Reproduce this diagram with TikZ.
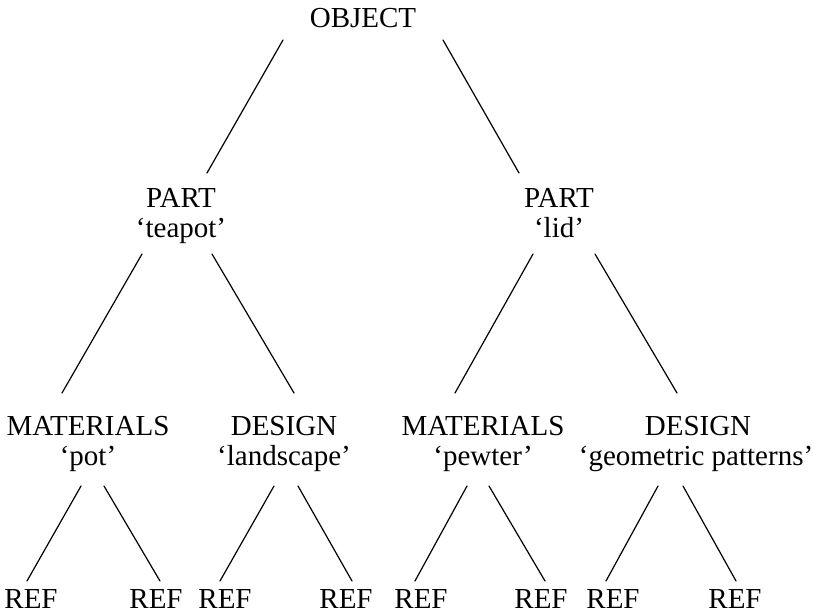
\documentclass[tikz,border=0pt]{standalone}
\usepackage{fontspec}
\setmainfont{Liberation Serif}
\usetikzlibrary{calc}

\tikzset{
  lbl/.style={anchor=base, inner sep=0pt, font=\fontsize{29}{31}\selectfont},
  branch/.style={line width=1.2pt, line cap=round}
}

\begin{document}
\begin{tikzpicture}[x=1pt, y=-1pt]
\useasboundingbox (0,0) rectangle (813,614);

% top of the tree
\node[lbl] (obj) at (363,27) {OBJECT};

% parts
\node[lbl] (partA) at (181,207) {PART};
\node[lbl] (teapot) at (181,237) {‘teapot’};
\node[lbl] (partB) at (559,207) {PART};
\node[lbl] (lid) at (559,237) {‘lid’};

% materials and design
\node[lbl] (matA) at (88,435) {MATERIALS};
\node[lbl] (pot) at (88,465) {‘pot’};
\node[lbl] (desA) at (284,435) {DESIGN};
\node[lbl] (land) at (284,465) {‘landscape’};
\node[lbl] (matB) at (483,435) {MATERIALS};
\node[lbl] (pewter) at (483,465) {‘pewter’};
\node[lbl] (desB) at (698,435) {DESIGN};
\node[lbl] (geo) at (696,465) {‘geometric patterns’};

% references
\node[lbl] (r1) at (31,608) {REF};
\node[lbl] (r2) at (156,608) {REF};
\node[lbl] (r3) at (225,608) {REF};
\node[lbl] (r4) at (346,608) {REF};
\node[lbl] (r5) at (421,608) {REF};
\node[lbl] (r6) at (541,608) {REF};
\node[lbl] (r7) at (613,608) {REF};
\node[lbl] (r8) at (735,608) {REF};

% object -> parts
\draw[branch] ($(obj.base)+(-80,13)$) -- ($(partA.base)+(26,-34)$);
\draw[branch] ($(obj.base)+(80,13)$) -- ($(partB.base)+(-40,-34)$);

% parts -> materials / design
\draw[branch] ($(teapot.base)+(-39,17)$) -- ($(matA.base)+(-26,-42)$);
\draw[branch] ($(teapot.base)+(31,17)$) -- ($(desA.base)+(10,-42)$);
\draw[branch] ($(lid.base)+(-26,17)$) -- ($(matB.base)+(-28,-42)$);
\draw[branch] ($(lid.base)+(36,17)$) -- ($(desB.base)+(-21,-42)$);

% materials / design -> references
\draw[branch] ($(pot.base)+(-7,21)$) -- ($(r1.base)+(-4,-27)$);
\draw[branch] ($(pot.base)+(16,21)$) -- ($(r2.base)+(4,-27)$);
\draw[branch] ($(land.base)+(-10,21)$) -- ($(r3.base)+(-5,-27)$);
\draw[branch] ($(land.base)+(14,21)$) -- ($(r4.base)+(6,-27)$);
\draw[branch] ($(pewter.base)+(-16,21)$) -- ($(r5.base)+(-6,-27)$);
\draw[branch] ($(pewter.base)+(6,21)$) -- ($(r6.base)+(4,-27)$);
\draw[branch] ($(geo.base)+(-38,21)$) -- ($(r7.base)+(-7,-27)$);
\draw[branch] ($(geo.base)+(-13,21)$) -- ($(r8.base)+(1,-27)$);
\end{tikzpicture}
\end{document}
